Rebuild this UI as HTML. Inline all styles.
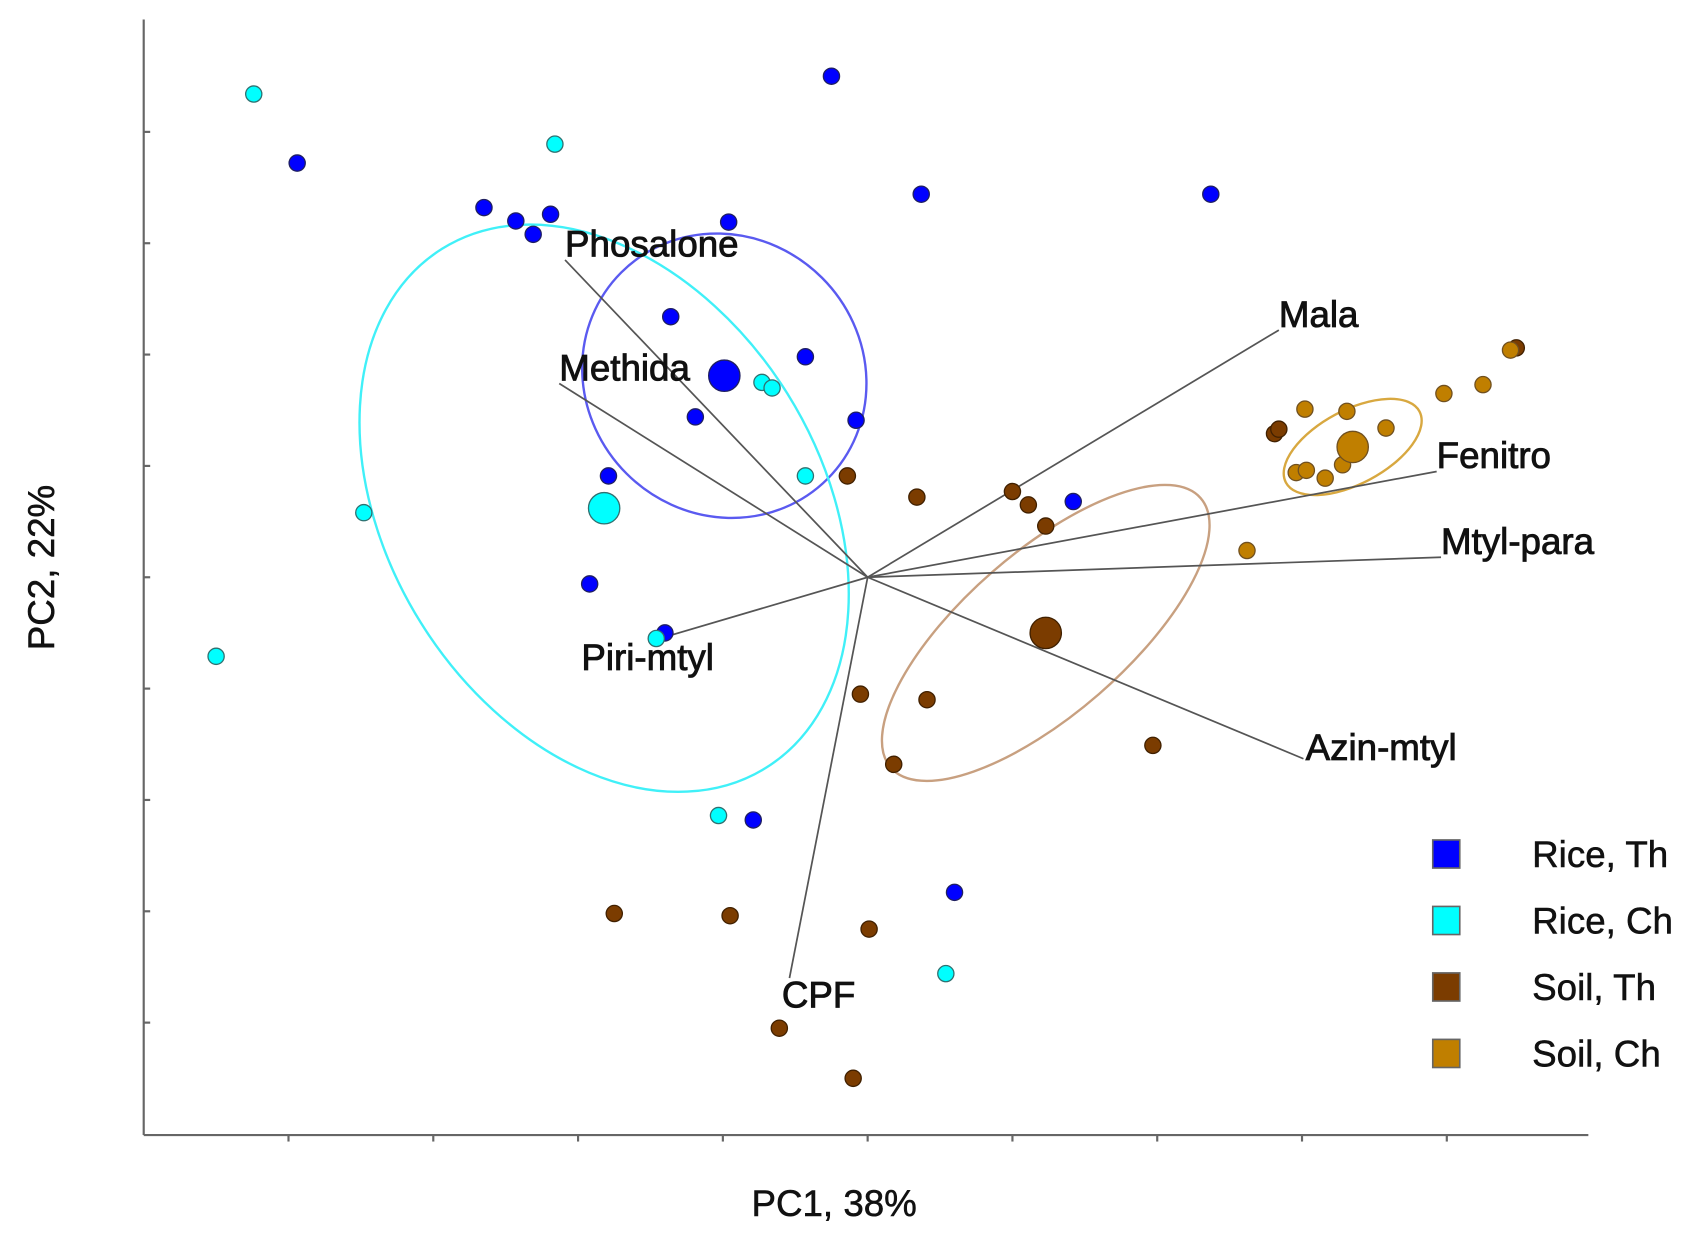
<!DOCTYPE html>
<html><head><meta charset="utf-8"><style>
html,body{margin:0;padding:0;background:#fff;}
svg{display:block;font-family:"Liberation Sans",Arial,sans-serif;}
</style></head><body>
<svg id="chart" width="1691" height="1241" viewBox="0 0 1565 1148" preserveAspectRatio="none" xmlns="http://www.w3.org/2000/svg">
<g id="axes"></g>
<g id="ellipses"></g>
<g id="loadings"></g>
<g id="points"></g>
<text x="772" y="1125" font-size="34" text-anchor="middle" fill="#111" stroke="#111" stroke-width="0.5">PC1, 38%</text>
<text x="0" y="0" font-size="34" text-anchor="middle" fill="#111" stroke="#111" stroke-width="0.5" transform="translate(50,525) rotate(-90)">PC2, 22%</text>
<g id="legend"></g>
</svg>
<script>
const xTicks = [-4,-3,-2,-1,0,1,2,3,4];
const yTicks = [4,3,2,1,0,-1,-2,-3,-4];
const riceTh = [[-0.25,4.50],[-3.94,3.72],[0.37,3.44],[2.37,3.44],[-2.65,3.32],[-2.43,3.20],[-2.19,3.26],[-2.31,3.08],[-0.96,3.19],[-1.36,2.34],[-0.43,1.98],[-1.19,1.44],[-0.08,1.41],[-1.79,0.91],[1.42,0.68],[-1.92,-0.06],[-1.40,-0.50],[-0.79,-2.18],[0.60,-2.83]];
const riceCh = [[-4.24,4.34],[-2.16,3.89],[-0.73,1.75],[-0.66,1.70],[-0.43,0.91],[-3.48,0.58],[-4.50,-0.71],[-1.46,-0.55],[-1.03,-2.14],[0.54,-3.56]];
const soilTh = [[-0.14,0.91],[0.34,0.72],[1.00,0.77],[1.11,0.65],[1.23,0.46],[-0.05,-1.05],[0.41,-1.10],[0.18,-1.68],[1.97,-1.51],[-1.75,-3.02],[-0.95,-3.04],[0.01,-3.16],[-0.61,-4.05],[-0.10,-4.50],[2.81,1.29],[2.84,1.33],[4.48,2.06]];
const soilCh = [[3.02,1.51],[3.31,1.49],[3.58,1.34],[2.96,0.94],[3.03,0.96],[3.16,0.89],[3.28,1.01],[3.98,1.65],[4.25,1.73],[2.62,0.24],[4.44,2.04]];
const centroids = [[-0.99,1.81],[-1.82,0.62],[1.23,-0.50],[3.35,1.17]];
const loadingNames = ["Phosalone","Methida","Mala","Fenitro","Mtyl-para","Azin-mtyl","Piri-mtyl","CPF"];
const loadingX = [-2.09,-2.13,2.84,3.93,3.96,3.01,-1.41,-0.54];
const loadingY = [2.85,1.74,2.22,0.95,0.18,-1.63,-0.54,-3.60];
const seriesNames = ["Rice, Th","Rice, Ch","Soil, Th","Soil, Ch"];

const NS="http://www.w3.org/2000/svg";
const X0=133,X1=1470,Y0=1050,Y1=18;
function sx(v){return 803+v*134;}
function sy(v){return 534-v*103;}
function mk(tag,attrs,parent){const e=document.createElementNS(NS,tag);for(const k in attrs)e.setAttribute(k,attrs[k]);parent.appendChild(e);return e;}

const axes=document.getElementById('axes');
let e=mk('line',{x1:X0,y1:Y1,x2:X0,y2:Y0,stroke:'#666','stroke-width':2},axes);


e=mk('line',{x1:X0,y1:Y0,x2:X1,y2:Y0,stroke:'#666','stroke-width':2},axes);


xTicks.forEach(t=>{const l=mk('line',{x1:sx(t),y1:Y0,x2:sx(t),y2:Y0+6,stroke:'#666','stroke-width':2},axes);

});
yTicks.forEach(t=>{const l=mk('line',{x1:X0,y1:sy(t),x2:X0+6,y2:sy(t),stroke:'#666','stroke-width':2},axes);

});

const eg=document.getElementById('ellipses');
const ells=[[0,135,128,45,'#5a5af0'],[1,283,200,58,'#40f0f8'],[2,190,75,-41,'#c8a080'],[3,70,34,-28,'#d8a840']];
ells.forEach(([ci,rx,ry,rot,col])=>{const c=centroids[ci];
const el=mk('ellipse',{cx:0,cy:0,rx:rx,ry:ry,fill:'none',stroke:col,'stroke-width':2.2,transform:`translate(${sx(c[0])},${sy(c[1])}) rotate(${rot})`},eg);

});

const lg=document.getElementById('loadings');
loadingNames.forEach((n,i)=>{
const l=mk('line',{x1:sx(0),y1:sy(0),x2:sx(loadingX[i]),y2:sy(loadingY[i]),stroke:'#555','stroke-width':1.6},lg);


let tx=sx(loadingX[i]),ty=sy(loadingY[i])-3;
if(n==='Piri-mtyl'){tx-=76;ty+=33;}
if(n==='CPF'){tx-=7;ty+=30;}
if(n==='Azin-mtyl'){tx+=2;ty+=4;}
const t=mk('text',{x:tx,y:ty,'font-size':34,fill:'#111','stroke':'#111','stroke-width':0.8},lg);
t.textContent=n;

});

const pg=document.getElementById('points');
const fills=['#0000ff','#00ffff','#7b3c00','#c07f00'];
const strokes=['#202060','#307070','#402000','#705020'];
[riceTh,riceCh,soilTh,soilCh].forEach((arr,si)=>{arr.forEach(p=>{
const c=mk('circle',{cx:sx(p[0]),cy:sy(p[1]),r:7.5,fill:fills[si],stroke:strokes[si],'stroke-width':1.2},pg);

});});
centroids.forEach((p,si)=>{
const c=mk('circle',{cx:sx(p[0]),cy:sy(p[1]),r:14.5,fill:fills[si],stroke:strokes[si],'stroke-width':1.2},pg);

});

const leg=document.getElementById('legend');
seriesNames.forEach((n,i)=>{const y=790+i*61.5;
const r=mk('rect',{x:1326,y:y-13,width:25,height:26,fill:fills[i],stroke:'#666','stroke-width':1.5},leg);


const t=mk('text',{x:1418,y:y+12,'font-size':34,fill:'#111',stroke:'#111','stroke-width':0.5},leg);
t.textContent=n;

});
</script>
</body></html>
